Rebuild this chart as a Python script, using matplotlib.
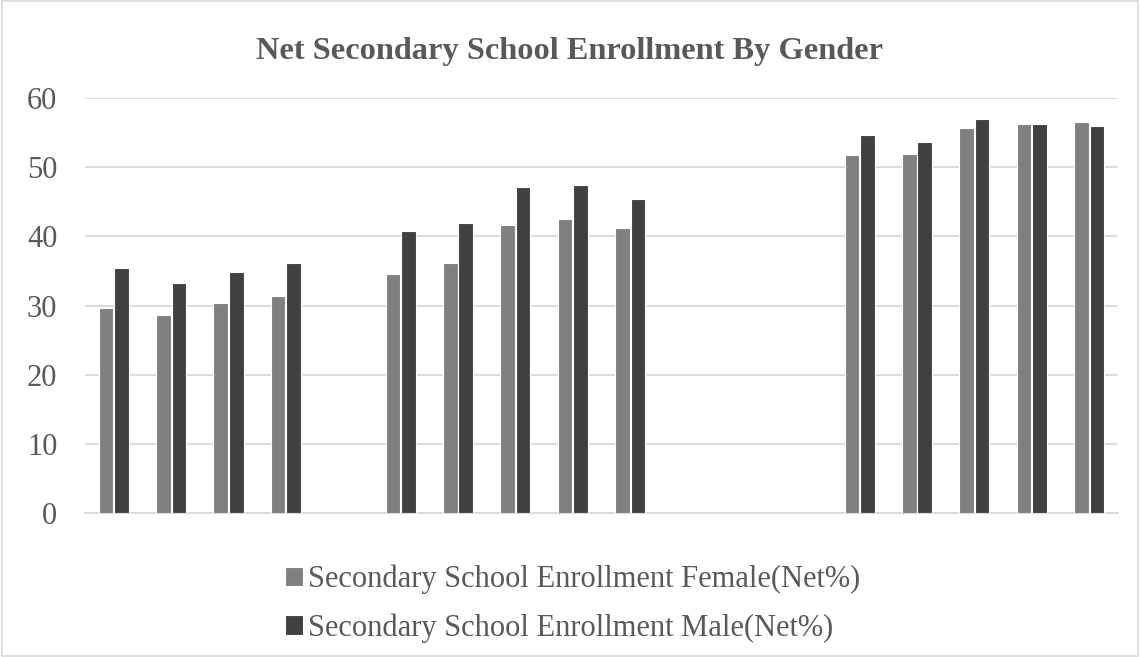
import numpy as np
import matplotlib.pyplot as plt
from matplotlib.patches import Rectangle

nan = np.nan

# 18 category slots; blank slots have no data
categories = [''] * 18
female = [29.7, 28.7, 30.3, 31.4, nan, 34.6, 36.2, 41.6, 42.5, 41.2,
          nan, nan, nan, 51.7, 51.9, 55.6, 56.2, 56.5]
male = [35.4, 33.3, 34.9, 36.1, nan, 40.8, 41.9, 47.1, 47.4, 45.4,
        nan, nan, nan, 54.6, 53.6, 56.9, 56.2, 55.9]
yticks = [0, 10, 20, 30, 40, 50, 60]

serif = ['Liberation Serif', 'DejaVu Serif']
txt = '#595959'

fig = plt.figure(figsize=(11.4, 6.57), dpi=100)
ax = fig.add_axes([0.0746, 0.219, 0.906, 0.632])

x = np.arange(len(categories))
w = 0.255
ax.bar(x - 0.135, female, w, color='#808080', edgecolor='white', linewidth=0.8,
       label='Secondary School Enrollment Female(Net%)', zorder=3)
ax.bar(x + 0.135, male, w, color='#404040', edgecolor='white', linewidth=0.8,
       label='Secondary School Enrollment Male(Net%)', zorder=3)

ax.set_xlim(-0.5, len(categories) - 0.5)
ax.set_ylim(0, 60)
ax.set_yticks(yticks)
ax.set_yticklabels([str(t) for t in yticks], family=serif, fontsize=22, color=txt)
ax.set_xticks([])
ax.tick_params(axis='y', length=0, pad=20)
ax.grid(True, axis='y', color='#d9d9d9', linewidth=1.3, zorder=0)
for s in ['top', 'right', 'left']:
    ax.spines[s].set_visible(False)
ax.spines['bottom'].set_color('#d9d9d9')
ax.spines['bottom'].set_linewidth(1.3)

fig.text(0.5, 0.921, 'Net Secondary School Enrollment By Gender', ha='center', va='center',
         family=serif, fontsize=23.3, fontweight='bold', color=txt)

leg = fig.legend(loc='center', bbox_to_anchor=(0.502, 0.081), ncol=1, frameon=False,
                 prop={'family': serif, 'size': 22}, handlelength=0.6, handleheight=0.6,
                 handletextpad=0.15, labelspacing=0.62)
for t in leg.get_texts():
    t.set_color(txt)

fig.patches.append(Rectangle((0.002, 0.002), 0.996, 0.996, transform=fig.transFigure,
                             fill=False, edgecolor='#d9d9d9', linewidth=1.2))

fig.savefig('out.png', dpi=100)
